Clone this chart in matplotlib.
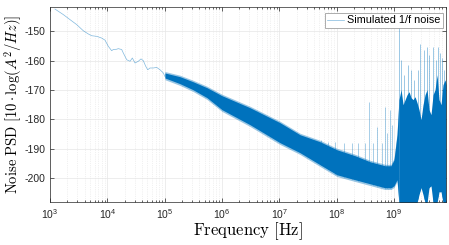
import numpy as np
import matplotlib
matplotlib.use("Agg")
import matplotlib.pyplot as plt

# ---------------- data ----------------
# low-frequency part of the PSD trace
lf_freq = [1.22e3, 1.71e3, 2.23e3, 2.92e3, 3.81e3, 4.66e3, 5.34e3, 6.53e3, 7.98e3,
           9.1e3, 1.04e4, 1.19e4, 1.27e4, 1.46e4, 1.55e4, 1.78e4, 1.90e4, 2.18e4,
           2.49e4, 2.73e4, 3.04e4, 3.47e4, 3.87e4, 4.24e4, 4.67e4, 5.06e4, 5.55e4,
           6.34e4, 7.26e4, 8.29e4, 9.47e4, 1.01e5]
lf_psd = [-142.4, -144.3, -146.0, -147.7, -149.8, -150.9, -151.5, -151.7, -152.3,
          -153.0, -155.1, -156.6, -156.2, -156.1, -155.9, -156.2, -157.4, -159.7,
          -160.2, -159.1, -160.8, -160.2, -159.4, -160.0, -161.9, -163.1, -162.5,
          -162.5, -162.3, -163.1, -164.2, -165.4]

# dense noisy band: upper / lower envelope
band_freq = [1.01e5, 1.85e5, 3.12e5, 5.48e5, 1.0e6, 3.08e6, 1.03e7, 2.30e7, 5.13e7,
             1.01e8, 2.09e8, 3.82e8, 6.97e8, 8.87e8, 1.0e9, 1.13e9, 1.22e9]
band_hi = [-164.2, -165.46, -167.17, -169.22, -171.95, -176.04, -181.16, -185.26,
           -187.65, -190.38, -192.42, -194.47, -195.84, -195.84, -193.79, -185.26, -173.31]
band_lo = [-165.9, -167.85, -169.90, -172.63, -176.72, -181.84, -187.99, -191.40,
           -195.49, -198.91, -200.61, -201.98, -203.34, -203.34, -202.66, -200.61, -208.5]

# narrow spikes standing above the band
band_spike_freq = [5.33e7, 7.06e7, 9.35e7, 1.34e8, 1.85e8, 2.36e8, 3.12e8, 3.66e8,
                   4.30e8, 5.06e8, 6.18e8, 6.97e8, 7.55e8, 8.53e8, 9.23e8]
band_spike_top = [-186.96, -187.65, -187.65, -187.99, -187.99, -187.99, -187.99, -174.0,
                  -187.99, -182.5, -187.99, -175.7, -184.6, -176.7, -181.8]

# region above ~1.2 GHz: dense filled envelope
hf_freq = [1.22e9, 1.33e9, 1.44e9, 1.56e9, 1.69e9, 1.83e9, 1.98e9, 2.15e9, 2.33e9,
           2.52e9, 2.73e9, 2.96e9, 3.21e9, 3.48e9, 3.77e9, 4.08e9, 4.42e9, 4.80e9,
           5.20e9, 5.63e9, 6.10e9, 6.61e9, 7.16e9, 7.76e9, 8.07e9]
hf_hi = [-173.3, -169.9, -175.0, -173.3, -171.6, -170.6, -172.6, -173.3, -172.3,
         -174.3, -176.7, -180.1, -175.0, -171.6, -169.9, -176.7, -178.4, -171.6,
         -169.9, -164.8, -173.3, -175.0, -168.2, -166.5, -168.2]
hf_lo = [-208.5, -208.5, -208.5, -208.5, -208.5, -208.5, -208.5, -208.5, -208.5,
         -208.5, -205.7, -203.3, -205.7, -208.5, -208.5, -203.3, -202.7, -208.5,
         -208.5, -208.5, -204.7, -204.7, -208.5, -208.5, -208.5]

hf_spike_freq = [1.22e9, 1.33e9, 1.50e9, 1.76e9, 1.98e9, 2.24e9, 2.62e9, 2.84e9, 3.34e9,
                 3.77e9, 4.08e9, 4.80e9, 5.41e9, 5.86e9, 6.35e9, 6.88e9, 7.46e9, 7.95e9]
hf_spike_top = [-146.0, -159.7, -164.8, -161.4, -163.1, -166.5, -163.1, -154.2, -156.2,
                -155.2, -158.0, -155.2, -159.7, -155.2, -157.3, -159.0, -163.1, -158.0]

xlim = (1e3, 8.07e9)
ylim = (-208.2, -141.7)
yticks = [-200, -190, -180, -170, -160, -150]
legend_label = "Simulated 1/f noise"

# ---------------- style ----------------
plt.rcParams['font.family'] = ['Liberation Sans', 'DejaVu Sans']
plt.rcParams['mathtext.fontset'] = 'custom'
plt.rcParams['mathtext.rm'] = 'Liberation Sans'
plt.rcParams['mathtext.it'] = 'Liberation Sans:italic'
plt.rcParams['mathtext.bf'] = 'Liberation Sans:bold'

C = '#0072BD'
AX = '#262626'

fig = plt.figure(figsize=(4.49, 2.45), dpi=100)
ax = fig.add_axes([50/449, 1-202/245, 396/449, 195/245])
ax.set_xscale('log')

# grid
ax.grid(True, which='major', color='#e6e6e6', lw=0.5, ls='-')
ax.grid(True, which='minor', axis='x', color='#e3e3e3', lw=0.5, ls=':')
ax.set_axisbelow(True)

# band
ax.fill_between(band_freq, np.array(band_hi) + 0.5, np.array(band_lo) - 0.6,
                color=C, alpha=0.4, lw=0)
ax.fill_between(band_freq, band_hi, band_lo, color=C, lw=0)
base = np.interp(np.log10(band_spike_freq), np.log10(band_freq), band_lo)
ax.vlines(band_spike_freq, base, band_spike_top, color=C, alpha=0.4, lw=0.6)

ax.fill_between(hf_freq, hf_hi, hf_lo, color=C, lw=0)
base2 = np.interp(np.log10(hf_spike_freq), np.log10(hf_freq), hf_lo)
ax.vlines(hf_spike_freq, base2, hf_spike_top, color=C, alpha=0.45, lw=0.6)

line, = ax.plot(lf_freq, lf_psd, color=C, lw=0.5, alpha=0.5, label=legend_label)

ax.set_xlim(*xlim)
ax.set_ylim(*ylim)
ax.set_yticks(yticks)
ax.set_yticklabels([str(t) for t in yticks])

for s in ax.spines.values():
    s.set_color(AX)
    s.set_linewidth(0.5)
ax.tick_params(which='both', direction='in', top=True, right=True, color=AX,
               labelcolor=AX, labelsize=7.5, width=0.5)
ax.tick_params(which='major', length=3)
ax.tick_params(which='minor', length=1.6)
ax.xaxis.set_minor_formatter(matplotlib.ticker.NullFormatter())

ax.set_xlabel(r'$\mathrm{Frequency\ [Hz]}$', fontsize=12, math_fontfamily='cm',
              labelpad=0)
ax.set_ylabel(r'$\mathrm{Noise\ PSD}\ [10\cdot\log(A^2/Hz)]$', fontsize=10.5,
              math_fontfamily='cm', labelpad=0)

leg = ax.legend(loc='upper right', bbox_to_anchor=((443-50)/396, (202-12.7)/195),
                borderaxespad=0, fontsize=7.8, fancybox=False, framealpha=1,
                handlelength=1.5, handletextpad=0.3, borderpad=0.25)
leg.get_frame().set_edgecolor('#8c8c8c')
leg.get_frame().set_linewidth(0.5)

fig.savefig('out.png', dpi=100)
